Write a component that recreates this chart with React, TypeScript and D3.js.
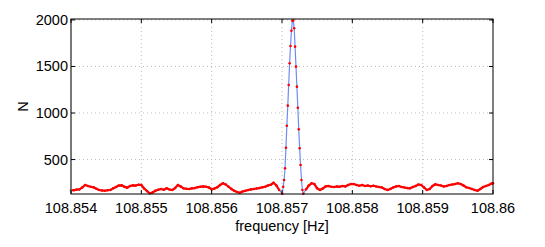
import React, { useEffect, useRef } from 'react';
import * as d3 from 'd3';

// frequency offsets are in microhertz above 108.854 Hz
const F0 = 108.854;

// [offset µHz, N]
const leftBase: [number, number][] = [
  [0, 173], [40, 170], [80, 178], [120, 180], [160, 200], [200, 227], [240, 216], [280, 208],
  [320, 202], [360, 186], [400, 173], [440, 168], [480, 165], [520, 170], [560, 173], [600, 191],
  [640, 205], [680, 221], [720, 223], [760, 207], [800, 198], [840, 216], [880, 223], [920, 221],
  [960, 229], [1000, 227], [1040, 189], [1080, 162], [1120, 138], [1160, 146], [1200, 165], [1240, 175],
  [1280, 184], [1320, 175], [1360, 191], [1400, 178], [1440, 173], [1480, 194], [1520, 227], [1560, 211],
  [1600, 191], [1640, 186], [1680, 184], [1720, 191], [1760, 194], [1800, 203], [1840, 208], [1880, 211],
  [1920, 208], [1960, 200], [2000, 180], [2040, 189], [2080, 202], [2120, 227], [2160, 245], [2200, 232],
  [2240, 208], [2280, 184], [2320, 165], [2360, 151], [2400, 144], [2440, 157], [2480, 165], [2520, 173],
  [2560, 180], [2600, 184], [2640, 189], [2680, 194], [2720, 202], [2760, 208], [2800, 221], [2840, 229],
  [2880, 251], [2920, 221], [2960, 173],
];

const peak: [number, number][] = [
  [3004, 132], [3017, 208], [3030, 280], [3043, 406], [3056, 627], [3069, 864], [3082, 1079], [3095, 1301],
  [3108, 1534], [3121, 1720], [3134, 1884], [3147, 1992], [3160, 1995], [3173, 1910], [3186, 1713], [3199, 1498],
  [3212, 1283], [3225, 1057], [3238, 825], [3251, 621], [3264, 442], [3277, 280], [3290, 173], [3303, 132],
];

const rightBase: [number, number][] = [
  [3340, 178], [3380, 221], [3420, 245], [3460, 237], [3500, 191], [3540, 173], [3580, 189], [3620, 211],
  [3660, 216], [3700, 208], [3740, 205], [3780, 211], [3820, 208], [3860, 216], [3900, 211], [3940, 227],
  [3980, 237], [4020, 237], [4060, 227], [4100, 219], [4140, 227], [4180, 216], [4220, 221], [4260, 213],
  [4300, 219], [4340, 211], [4380, 205], [4420, 200], [4460, 184], [4500, 173], [4540, 184], [4580, 200],
  [4620, 211], [4660, 216], [4700, 205], [4740, 200], [4780, 194], [4820, 191], [4860, 205], [4900, 216],
  [4940, 232], [4980, 227], [5020, 200], [5060, 173], [5100, 184], [5140, 216], [5180, 234], [5220, 227],
  [5260, 221], [5300, 211], [5340, 216], [5380, 227], [5420, 232], [5460, 237], [5500, 245], [5540, 237],
  [5580, 221], [5620, 202], [5660, 194], [5700, 184], [5740, 173], [5780, 165], [5820, 184], [5860, 205],
  [5900, 216], [5940, 227], [5980, 243], [6000, 246],
];

const xTicks = [108.854, 108.855, 108.856, 108.857, 108.858, 108.859, 108.86];
const xTickLabels = ['108.854', '108.855', '108.856', '108.857', '108.858', '108.859', '108.86'];
const yTicks = [500, 1000, 1500, 2000];

export default function App() {
  const ref = useRef<SVGSVGElement>(null);

  useEffect(() => {
    document.body.style.margin = '0';
    const margin = { top: 19, right: 52, bottom: 53, left: 71 },
      width = 545 - margin.left - margin.right,
      height = 247 - margin.top - margin.bottom;

    const svg = d3.select(ref.current);
    svg.selectAll('*').remove();
    const g = svg
      .append('g')
      .attr('transform', 'translate(' + margin.left + ',' + margin.top + ')');

    const x = d3.scaleLinear().domain([108.854, 108.86]).range([0, width]);
    const y = d3.scaleLinear().domain([130, 2010]).range([height, 0]);

    const toPts = (arr: [number, number][]) => arr.map((d) => ({ f: F0 + d[0] * 1e-6, n: d[1] }));
    const data = toPts(leftBase.concat(peak, rightBase));

    const font = 'Liberation Sans, Arial, sans-serif';

    // dotted grid
    g.selectAll('.gx')
      .data(xTicks.slice(1, -1))
      .enter()
      .append('line')
      .attr('x1', (d) => x(d))
      .attr('x2', (d) => x(d))
      .attr('y1', 0)
      .attr('y2', height)
      .attr('stroke', '#bbb')
      .attr('stroke-width', 1)
      .attr('stroke-dasharray', '1,3');
    g.selectAll('.gy')
      .data(yTicks)
      .enter()
      .append('line')
      .attr('x1', 0)
      .attr('x2', width)
      .attr('y1', (d) => y(d))
      .attr('y2', (d) => y(d))
      .attr('stroke', '#bbb')
      .attr('stroke-width', 1)
      .attr('stroke-dasharray', '1,3');

    // series
    const line = d3
      .line<{ f: number; n: number }>()
      .x((d) => x(d.f))
      .y((d) => y(d.n));
    g.append('path')
      .datum(data)
      .attr('d', line)
      .attr('fill', 'none')
      .attr('stroke', '#6f8cf2')
      .attr('stroke-width', 1.2);
    // dense markers on the flat parts merge into a thick red trace
    [leftBase, rightBase].forEach((seg) => {
      g.append('path')
        .datum(toPts(seg))
        .attr('d', line)
        .attr('fill', 'none')
        .attr('stroke', '#f00')
        .attr('stroke-width', 2.2)
        .attr('stroke-linejoin', 'round');
    });
    g.selectAll('.pt')
      .data(data)
      .enter()
      .append('circle')
      .attr('cx', (d) => x(d.f))
      .attr('cy', (d) => y(d.n))
      .attr('r', 1.3)
      .attr('fill', '#f00');

    // axes box + inward ticks
    g.append('rect')
      .attr('x', 0)
      .attr('y', 0)
      .attr('width', width)
      .attr('height', height)
      .attr('fill', 'none')
      .attr('stroke', '#000')
      .attr('stroke-width', 1);
    g.append('line')
      .attr('x1', 0)
      .attr('x2', 0)
      .attr('y1', 0)
      .attr('y2', height)
      .attr('stroke', '#777')
      .attr('stroke-width', 1.6);

    xTicks.forEach((t, i) => {
      g.append('line')
        .attr('x1', x(t)).attr('x2', x(t))
        .attr('y1', height).attr('y2', height - 4)
        .attr('stroke', '#000');
      g.append('line')
        .attr('x1', x(t)).attr('x2', x(t))
        .attr('y1', 0).attr('y2', 4)
        .attr('stroke', '#000');
      g.append('text')
        .attr('x', x(t))
        .attr('y', height + 19)
        .attr('text-anchor', 'middle')
        .attr('font-family', font)
        .attr('font-size', 14.5)
        .text(xTickLabels[i]);
    });
    yTicks.forEach((t) => {
      g.append('line')
        .attr('x1', 0).attr('x2', 4)
        .attr('y1', y(t)).attr('y2', y(t))
        .attr('stroke', '#000');
      g.append('line')
        .attr('x1', width).attr('x2', width - 4)
        .attr('y1', y(t)).attr('y2', y(t))
        .attr('stroke', '#000');
      g.append('text')
        .attr('x', -3)
        .attr('y', y(t) + 5)
        .attr('text-anchor', 'end')
        .attr('font-family', font)
        .attr('font-size', 14.5)
        .text(t);
    });

    // axis titles
    g.append('text')
      .attr('x', width / 2)
      .attr('y', height + 37)
      .attr('text-anchor', 'middle')
      .attr('font-family', font)
      .attr('font-size', 14.5)
      .text('frequency [Hz]');
    g.append('text')
      .attr('transform', 'translate(' + -43 + ',' + height / 2 + ') rotate(-90)')
      .attr('text-anchor', 'middle')
      .attr('font-family', font)
      .attr('font-size', 14.5)
      .text('N');
  }, []);

  return <svg ref={ref} width={545} height={247} style={{ display: 'block', background: '#fff' }}></svg>;
}
